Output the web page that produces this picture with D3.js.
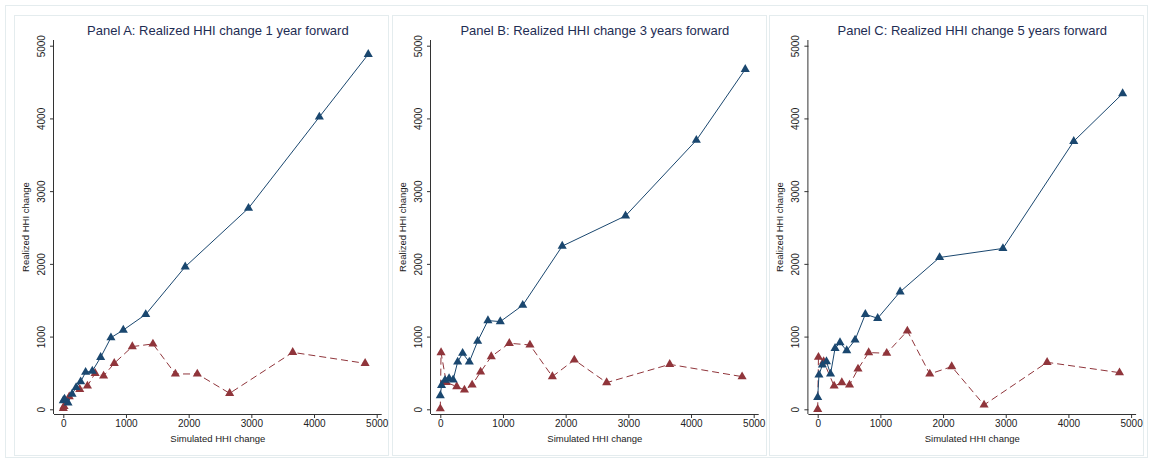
<!DOCTYPE html>
<html>
<head>
<meta charset="utf-8">
<script src="https://cdn.jsdelivr.net/npm/d3@7"></script>
<style>
  body { margin: 0; background: #fff; }
  svg { display: block; font-family: "Liberation Sans", Arial, sans-serif; }
</style>
</head>
<body>
<svg id="chart" width="1151" height="463"></svg>
<script>
// shared x positions (simulated HHI change)
let blueX = [0, 20, 75, 140, 205, 277, 356, 463, 596, 760, 957, 1315, 1945, 2955, 4085, 4865];
let redX  = [0, 12, 95, 262, 385, 508, 643, 813, 1101, 1430, 1788, 2138, 2654, 3660, 4815];

let titles = [
  "Panel A: Realized HHI change 1 year forward",
  "Panel B: Realized HHI change 3 years forward",
  "Panel C: Realized HHI change 5 years forward"
];

let blueA = [120, 140, 90, 210, 300, 380, 510, 525, 715, 985, 1090, 1305, 1960, 2766, 4020, 4881];
let blueB = [188, 330, 400, 425, 405, 651, 771, 651, 936, 1220, 1206, 1431, 2244, 2660, 3700, 4675];
let blueC = [165, 472, 610, 656, 486, 839, 917, 807, 954, 1307, 1252, 1616, 2088, 2212, 3686, 4341];

let redA = [14, 41, 174, 275, 321, 495, 459, 633, 862, 899, 486, 486, 220, 783, 632];
let redB = [9, 780, 372, 312, 266, 335, 514, 725, 908, 885, 450, 679, 367, 618, 449];
let redC = [0, 716, 656, 321, 367, 335, 555, 780, 771, 1078, 486, 587, 60, 646, 504];

let ticks = [0, 1000, 2000, 3000, 4000, 5000];

let blueSeries = [blueA, blueB, blueC];
let redSeries = [redA, redB, redC];

let navy = "#1a476f",
    maroon = "#90353b";

let svg = d3.select("#chart");

// outer frame
svg.append("rect")
  .attr("x", 5.5).attr("y", 5.5)
  .attr("width", 1142).attr("height", 452)
  .attr("fill", "none")
  .attr("stroke", "#e4ecee");

let panelLeft = [14, 392, 769];
let originX = [63.3, 440.3, 817.7];

let tri = d3.symbol().type(d3.symbolTriangle).size(36);

titles.forEach((title, i) => {
  let g = svg.append("g");

  g.append("rect")
    .attr("x", panelLeft[i] + 0.5).attr("y", 15.5)
    .attr("width", 374).attr("height", 440)
    .attr("fill", "#fff")
    .attr("stroke", "#e4ecee");

  let x = d3.scaleLinear().domain([0, 5000]).range([originX[i], originX[i] + 313.4]);
  let y = d3.scaleLinear().domain([0, 5000]).range([409.3, 45.7]);

  let axisY = 414,
      axisX = originX[i] - 9.3;

  // x axis
  let xa = g.append("g")
    .attr("transform", `translate(0,${axisY})`)
    .call(d3.axisBottom(x).tickValues(ticks).tickSize(4).tickSizeOuter(0).tickFormat(d3.format("d")));
  xa.select(".domain").attr("d", `M${axisX},0.5H${x(5000) + 5}`).attr("stroke", "#333");
  xa.selectAll(".tick line").attr("stroke", "#333");
  xa.selectAll(".tick text")
    .attr("y", 6)
    .attr("fill", "#222")
    .style("font-size", "10px");

  // y axis
  let ya = g.append("g")
    .attr("transform", `translate(${axisX},0)`)
    .call(d3.axisLeft(y).tickValues(ticks).tickSize(4).tickSizeOuter(0).tickFormat(d3.format("d")));
  ya.select(".domain").attr("d", `M-0.5,40V${axisY}`).attr("stroke", "#333");
  ya.selectAll(".tick line").attr("stroke", "#333");
  ya.selectAll(".tick text")
    .attr("x", null).attr("dy", null)
    .attr("transform", "translate(-9,0) rotate(-90)")
    .attr("text-anchor", "middle")
    .attr("fill", "#222")
    .style("font-size", "10px");

  // axis titles
  g.append("text")
    .attr("x", (axisX + x(5000) + 5) / 2)
    .attr("y", 442)
    .attr("text-anchor", "middle")
    .attr("fill", "#222")
    .style("font-size", "9.5px")
    .text("Simulated HHI change");

  g.append("text")
    .attr("transform", `translate(${axisX - 25},227) rotate(-90)`)
    .attr("text-anchor", "middle")
    .attr("fill", "#222")
    .style("font-size", "9.5px")
    .text("Realized HHI change");

  // title
  g.append("text")
    .attr("x", (axisX + x(5000) + 5) / 2)
    .attr("y", 35)
    .attr("text-anchor", "middle")
    .attr("fill", "#1e2d53")
    .style("font-size", "13px")
    .text(title);

  let line = d3.line().x(d => x(d[0])).y(d => y(d[1]));

  let blue = blueX.map((v, k) => [v, blueSeries[i][k]]);
  let red = redX.map((v, k) => [v, redSeries[i][k]]);

  g.append("path")
    .datum(red)
    .attr("d", line)
    .attr("fill", "none")
    .attr("stroke", maroon)
    .attr("stroke-width", 1)
    .attr("stroke-dasharray", "7,4");

  g.append("path")
    .datum(blue)
    .attr("d", line)
    .attr("fill", "none")
    .attr("stroke", navy)
    .attr("stroke-width", 1);

  g.selectAll("path.red")
    .data(red)
    .enter()
    .append("path")
    .attr("class", "red")
    .attr("d", tri)
    .attr("transform", d => `translate(${x(d[0])},${y(d[1])})`)
    .attr("fill", maroon);

  g.selectAll("path.blue")
    .data(blue)
    .enter()
    .append("path")
    .attr("class", "blue")
    .attr("d", tri)
    .attr("transform", d => `translate(${x(d[0])},${y(d[1])})`)
    .attr("fill", navy);
});
</script>
</body>
</html>
